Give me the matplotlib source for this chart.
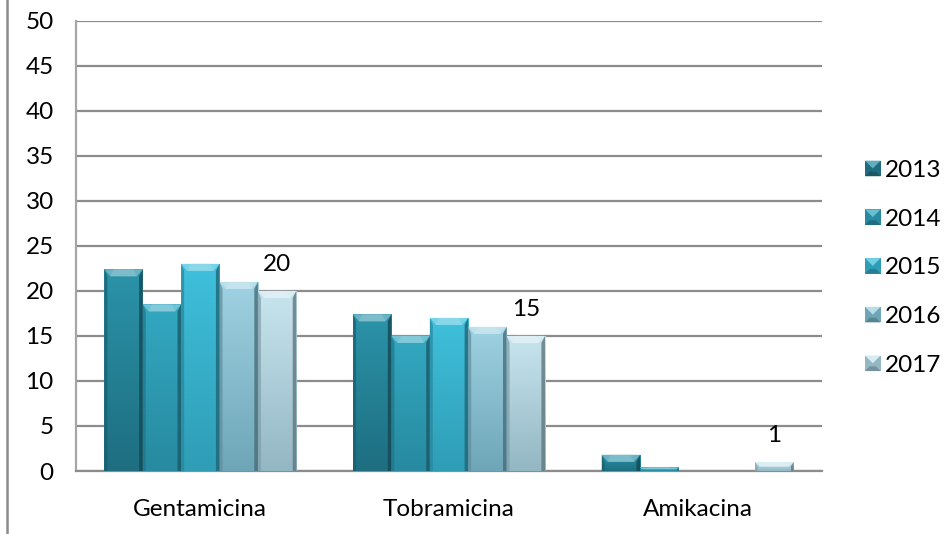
import numpy as np
import matplotlib
matplotlib.use("Agg")
import matplotlib.pyplot as plt
from matplotlib.patches import Polygon, Rectangle
from matplotlib.legend_handler import HandlerBase
from matplotlib.lines import Line2D
from matplotlib.colors import to_rgb

plt.rcParams["font.family"] = ["Lato", "DejaVu Sans"]

antibioticos = ["Gentamicina", "Tobramicina", "Amikacina"]
anos = ["2013", "2014", "2015", "2016", "2017"]
v2013 = [22.4, 17.4, 1.8]
v2014 = [18.5, 15.0, 0.4]
v2015 = [23.0, 17.0, 0.0]
v2016 = [21.0, 16.0, 0.0]
v2017 = [20.0, 15.0, 1.0]
series = [v2013, v2014, v2015, v2016, v2017]

# top / bottom colour of each series (vertical shading)
top_cols = ["#2b93a9", "#33a8c1", "#3fc0dc", "#9fd2e2", "#c8e5ef"]
bot_cols = ["#1e6e80", "#278aa0", "#2f9db6", "#6ea6b8", "#93b7c3"]

FS = 17.5
fig = plt.figure(figsize=(9.45, 5.34), dpi=100)
ax = fig.add_axes([76/945, 1 - 471/534, (822-76)/945, (471-20.7)/534])
ax.set_xlim(-0.5, 2.5)
ax.set_ylim(0, 50)
ax.set_yticks(np.arange(0, 51, 5))
ax.set_xticks(range(len(antibioticos)))
ax.set_xticklabels(antibioticos, fontsize=FS)
ax.tick_params(axis="y", labelsize=FS, length=0, pad=16)
ax.tick_params(axis="x", length=0, pad=20)
ax.grid(axis="y", color="#8c8c8c", linewidth=1.6)
ax.set_axisbelow(True)
for s in ["top", "right"]:
    ax.spines[s].set_visible(False)
ax.spines["left"].set_color("#a6a6a6")
ax.spines["left"].set_linewidth(1.6)
ax.spines["bottom"].set_color("#8c8c8c")
ax.spines["bottom"].set_linewidth(1.6)

# left frame line of the chart area
fig.add_artist(Line2D([7/945, 7/945], [0, 1], transform=fig.transFigure,
                      color="#8c8c8c", linewidth=1.8))

width = 0.1544
x = np.arange(len(antibioticos))

# pixels per data unit, to size the bevel edges
p0 = ax.transData.transform((0, 0))
p1 = ax.transData.transform((1, 1))
pxx, pxy = p1[0] - p0[0], p1[1] - p0[1]


def mix(c, other, t):
    c, o = np.array(to_rgb(c)), np.array(to_rgb(other))
    return tuple(c * (1 - t) + o * t)


def bevel_bar(x0, h, w, ctop, cbot):
    if h <= 0:
        return
    bx = 6 / pxx
    by = min(7 / pxy, h / 2)
    bxs = min(bx, by * pxy / pxx) if by < 7 / pxy else bx
    rect = Rectangle((x0, 0), w, h, facecolor="none", edgecolor="none", zorder=3)
    ax.add_patch(rect)
    grad = np.linspace(0, 1, 64)[:, None]
    c1, c2 = np.array(to_rgb(ctop)), np.array(to_rgb(cbot))
    img = c2[None, None, :] * (1 - grad[..., None]) + c1[None, None, :] * grad[..., None]
    im = ax.imshow(img, extent=(x0, x0 + w, 0, h), origin="lower",
                   aspect="auto", zorder=3, interpolation="bilinear")
    im.set_clip_path(rect)
    # top chamfer
    ax.add_patch(Polygon([(x0, h), (x0 + w, h), (x0 + w - bxs, h - by), (x0 + bxs, h - by)],
                         closed=True, facecolor=mix(ctop, "white", 0.3),
                         edgecolor="none", zorder=4))
    ax.add_patch(Polygon([(x0 + w * 0.25, h), (x0 + w * 0.75, h),
                          (x0 + w - bxs, h - by), (x0 + bxs, h - by)],
                         closed=True, facecolor=mix(ctop, "white", 0.45),
                         edgecolor="none", zorder=4, alpha=0.6))
    # side edges
    ax.add_patch(Polygon([(x0, h), (x0 + bxs * 0.5, h - by), (x0 + bxs * 0.5, 0), (x0, 0)],
                         closed=True, facecolor=mix(cbot, "black", 0.15),
                         edgecolor="none", zorder=4, alpha=0.7))
    ax.add_patch(Polygon([(x0 + w, h), (x0 + w - bxs * 0.6, h - by), (x0 + w - bxs * 0.6, 0),
                          (x0 + w, 0)],
                         closed=True, facecolor=mix(cbot, "black", 0.35),
                         edgecolor="none", zorder=4, alpha=0.8))


for i, vals in enumerate(series):
    for j, v in enumerate(vals):
        x0 = x[j] + (i - 2.5) * width
        bevel_bar(x0, v, width, top_cols[i], bot_cols[i])

# value labels on the 2017 series
for j, v in enumerate(v2017):
    ax.annotate(f"{v:g}", (x[j] + 2 * width, v), xytext=(0, 19),
                textcoords="offset points", ha="center", va="center",
                fontsize=FS, zorder=5)


class BevelHandler(HandlerBase):
    def create_artists(self, legend, orig_handle, xdescent, ydescent,
                       width, height, fontsize, trans):
        ctop, cbot = orig_handle
        s = min(width, height)
        x0, y0 = -xdescent, -ydescent + (height - s) / 2
        b = s * 0.3
        arts = [Rectangle((x0, y0), s, s, facecolor=cbot, edgecolor="none"),
                Polygon([(x0, y0 + s), (x0 + s, y0 + s), (x0 + s / 2, y0 + s / 2)],
                        facecolor=mix(ctop, "white", 0.25), edgecolor="none"),
                Polygon([(x0, y0), (x0 + s, y0), (x0 + s - b, y0 + b), (x0 + b, y0 + b)],
                        facecolor=mix(cbot, "black", 0.2), edgecolor="none")]
        for a in arts:
            a.set_transform(trans)
        return arts


handles = [(top_cols[i], bot_cols[i]) for i in range(len(anos))]
fig.legend(handles, anos, handler_map={tuple: BevelHandler()},
           loc="upper left", bbox_to_anchor=(865/945, 1 - 160/534),
           frameon=False, fontsize=FS, handlelength=0.64, handleheight=0.64,
           handletextpad=0.18, labelspacing=1.14, borderpad=0, borderaxespad=0)

fig.savefig("out.png", dpi=100)
